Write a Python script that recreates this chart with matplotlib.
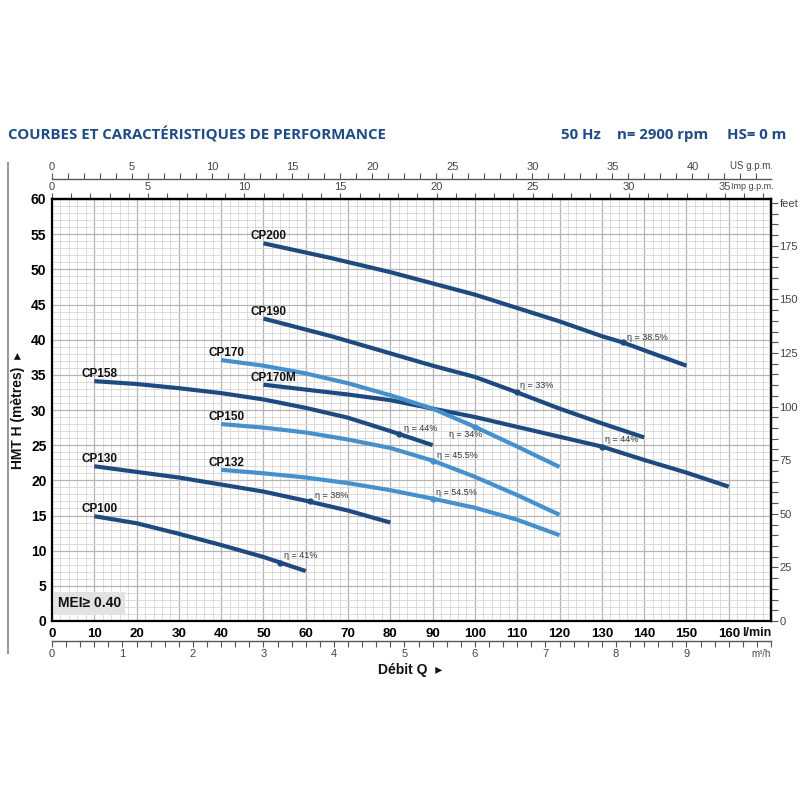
import matplotlib
matplotlib.use("Agg")
import matplotlib.pyplot as plt
from matplotlib import font_manager as fm
from matplotlib.ticker import MultipleLocator, FixedLocator, FixedFormatter
from matplotlib.lines import Line2D

# --- fonts ---
installed = {f.name for f in fm.fontManager.ttflist}
NARROW = "Liberation Sans Narrow" if "Liberation Sans Narrow" in installed else "Liberation Sans"
BOLD = "Liberation Sans"
TITLE_FONT = "Open Sans"

# --- data (Q en l/min, H en m) ---
cp200_q = [50, 66, 80, 90, 100, 110, 120, 130, 135, 150]
cp200_h = [53.7, 51.6, 49.6, 48.0, 46.4, 44.5, 42.6, 40.5, 39.6, 36.3]
cp190_q = [50, 66, 82, 90, 100, 110, 120, 130, 140]
cp190_h = [43.0, 40.5, 37.7, 36.3, 34.7, 32.5, 30.2, 28.1, 26.1]
cp170m_q = [50, 60, 70, 80, 90, 100, 110, 120, 130, 140, 150, 160]
cp170m_h = [33.6, 32.9, 32.2, 31.4, 30.2, 29.0, 27.6, 26.2, 24.8, 22.9, 21.1, 19.1]
cp170_q = [40, 50, 60, 70, 80, 90, 100, 110, 120]
cp170_h = [37.1, 36.3, 35.2, 33.8, 32.1, 30.2, 27.6, 24.8, 21.9]
cp158_q = [10, 20, 30, 40, 50, 60, 70, 80, 90]
cp158_h = [34.1, 33.7, 33.1, 32.4, 31.5, 30.3, 28.9, 27.0, 25.0]
cp150_q = [40, 50, 60, 70, 80, 90, 100, 110, 120]
cp150_h = [28.0, 27.5, 26.8, 25.8, 24.6, 22.8, 20.5, 17.9, 15.1]
cp132_q = [40, 50, 60, 70, 80, 90, 100, 110, 120]
cp132_h = [21.5, 21.0, 20.4, 19.6, 18.6, 17.4, 16.1, 14.4, 12.2]
cp130_q = [10, 20, 30, 40, 50, 60, 70, 80]
cp130_h = [22.0, 21.2, 20.4, 19.4, 18.4, 17.1, 15.7, 14.0]
cp100_q = [10, 20, 30, 40, 50, 60]
cp100_h = [14.9, 13.9, 12.4, 10.8, 9.1, 7.1]

noms = ["CP200", "CP190", "CP170M", "CP170", "CP158", "CP150", "CP132", "CP130", "CP100"]
courbes_q = [cp200_q, cp190_q, cp170m_q, cp170_q, cp158_q, cp150_q, cp132_q, cp130_q, cp100_q]
courbes_h = [cp200_h, cp190_h, cp170m_h, cp170_h, cp158_h, cp150_h, cp132_h, cp130_h, cp100_h]

# rendement (point, texte)
eta_q = [135, 110, 130, 100, 82, 90, 90, 61, 54]
eta_h = [39.6, 32.5, 24.8, 27.6, 26.6, 22.8, 17.4, 17.0, 8.3]
eta_txt = ["38.5%", "33%", "44%", "34%", "44%", "45.5%", "54.5%", "38%", "41%"]

FONCE = "#1d4a80"
CLAIR = "#4691cd"
couleurs = [FONCE, FONCE, FONCE, CLAIR, FONCE, CLAIR, CLAIR, FONCE, FONCE]
# decalage du texte eta en pixels
eta_off = [(4, 5), (3, 7), (3, 7), (-26, -8), (5, 5), (4, 5), (3, 6), (5, 6), (4, 7)]

W, H = 800, 800
fig = plt.figure(figsize=(8, 8), dpi=100)
fig.patch.set_facecolor("white")

# zone du graphe en pixels
x0, x1, y0, y1 = 52, 771, 199, 621
ax = fig.add_axes([x0 / W, 1 - y1 / H, (x1 - x0) / W, (y1 - y0) / H])
ax.set_xlim(0, 170)
ax.set_ylim(0, 60)

ax.xaxis.set_major_locator(FixedLocator(range(0, 161, 10)))
ax.xaxis.set_minor_locator(MultipleLocator(2))
ax.yaxis.set_major_locator(MultipleLocator(5))
ax.yaxis.set_minor_locator(MultipleLocator(1))
ax.grid(which="minor", color="#d6d6d6", lw=0.6)
ax.grid(which="major", color="#b4b4b4", lw=0.9)
ax.set_axisbelow(True)
ax.tick_params(which="both", length=0)
ax.tick_params(axis="x", pad=5, labelsize=9.5)
ax.tick_params(axis="y", pad=4, labelsize=10)
for lab in ax.get_xticklabels():
    lab.set_fontfamily(NARROW)
    lab.set_fontweight("bold")
for lab in ax.get_yticklabels():
    lab.set_fontfamily(BOLD)
    lab.set_fontweight("bold")
for sp in ax.spines.values():
    sp.set_color("black")
    sp.set_linewidth(1.6)

# courbes
for nom, q, h, c in zip(noms, courbes_q, courbes_h, couleurs):
    ax.plot(q, h, color=c, lw=3.0, solid_capstyle="butt", solid_joinstyle="round", zorder=3)
    ax.annotate(nom, (q[0], h[0]), xytext=(-13, 7), textcoords="offset pixels",
                ha="left", va="center", fontsize=8.5, fontweight="bold",
                family=NARROW, color="#111111", zorder=5)

for q, h, t, c, off in zip(eta_q, eta_h, eta_txt, couleurs, eta_off):
    ax.plot([q], [h], "o", ms=3.5, color=c, zorder=4)
    ax.annotate("\u03b7 = " + t, (q, h), xytext=off, textcoords="offset pixels",
                ha="left", va="center", fontsize=6.5, family=[NARROW, "DejaVu Sans"],
                color="#333333", zorder=5)

# MEI
ax.text(0.008, 0.025, "MEI\u2265 0.40", transform=ax.transAxes, ha="left", va="bottom",
        fontsize=10, fontweight="bold", family=[BOLD, "DejaVu Sans"], color="#111111",
        bbox=dict(boxstyle="square,pad=0.3", fc="#e2e2e2", ec="none"), zorder=6)

# axe Imp g.p.m. (haut du cadre)
imp = ax.secondary_xaxis("top", functions=(lambda q: q / 4.54609, lambda g: g * 4.54609))
imp.xaxis.set_major_locator(FixedLocator(range(0, 36, 5)))
imp.xaxis.set_minor_locator(MultipleLocator(1))
imp.tick_params(which="both", direction="out", length=4, width=0.8, color="#555555",
                labelsize=8, labelcolor="#444444", pad=1)
for lab in imp.get_xticklabels():
    lab.set_fontfamily(NARROW)
imp.spines["top"].set_linewidth(1.6)
ax.text(1.003, 1.018, "Imp g.p.m.", transform=ax.transAxes, ha="right", va="bottom",
        fontsize=6.5, family=NARROW, color="#444444")

# axe US g.p.m.
us_pos = (y1 - 179) / (y1 - y0)
us = ax.secondary_xaxis(us_pos, functions=(lambda q: q / 3.78541, lambda g: g * 3.78541))
us.xaxis.set_major_locator(FixedLocator(range(0, 41, 5)))
us.xaxis.set_minor_locator(MultipleLocator(1))
us.tick_params(which="both", direction="out", length=4, width=0.8, color="#555555",
               labelsize=8, labelcolor="#444444", pad=1)
for lab in us.get_xticklabels():
    lab.set_fontfamily(NARROW)
us.spines["top"].set_color("#555555")
us.spines["top"].set_linewidth(1.0)
ax.text(1.003, us_pos + 0.018, "US g.p.m.", transform=ax.transAxes, ha="right", va="bottom",
        fontsize=7, family=NARROW, color="#444444")

# axe m3/h
m3_pos = -(641 - y1) / (y1 - y0)
m3 = ax.secondary_xaxis(m3_pos, functions=(lambda q: q * 0.06, lambda m: m / 0.06))
m3.xaxis.set_major_locator(FixedLocator(range(0, 10)))
m3.xaxis.set_minor_locator(MultipleLocator(0.2))
m3.tick_params(which="both", direction="out", length=4, width=0.8, color="#555555",
               labelsize=8, labelcolor="#444444", pad=2)
for lab in m3.get_xticklabels():
    lab.set_fontfamily(NARROW)
m3.spines["bottom"].set_color("#555555")
m3.spines["bottom"].set_linewidth(1.0)
ax.text(1.0, m3_pos - 0.02, "m\u00b3/h", transform=ax.transAxes, ha="right", va="top",
        fontsize=7, family=NARROW, color="#444444")

# l/min
ax.text(1.0, -0.014, "l/min", transform=ax.transAxes, ha="right", va="top",
        fontsize=9, fontweight="bold", family=NARROW, color="#111111")

# axe feet (droite)
pieds_ticks = [0, 25, 50, 75, 100, 125, 150, 175, 195]
pieds_labels = ["0", "25", "50", "75", "100", "125", "150", "175", "feet"]
ft = ax.secondary_yaxis("right", functions=(lambda m: m / 0.3048, lambda f: f * 0.3048))
ft.yaxis.set_major_locator(FixedLocator(pieds_ticks))
ft.yaxis.set_major_formatter(FixedFormatter(pieds_labels))
ft.yaxis.set_minor_locator(MultipleLocator(5))
ft.tick_params(which="both", direction="out", length=5, width=0.8, color="#555555",
               labelsize=8, labelcolor="#444444", pad=1)
for lab in ft.get_yticklabels():
    lab.set_fontfamily(NARROW)
ft.spines["right"].set_linewidth(1.6)

# titres
BLEU = "#1f4b86"
fig.text(8 / W, 1 - 135 / H, "COURBES ET CARACT\u00c9RISTIQUES DE PERFORMANCE",
         ha="left", va="center", fontsize=10.8, fontweight="bold", family=TITLE_FONT,
         color=BLEU)
fig.text(601 / W, 1 - 135 / H, "50 Hz", ha="right", va="center", fontsize=10.8,
         fontweight="bold", family=TITLE_FONT, color=BLEU)
fig.text(708 / W, 1 - 135 / H, "n= 2900 rpm", ha="right", va="center", fontsize=10.8,
         fontweight="bold", family=TITLE_FONT, color=BLEU)
fig.text(786 / W, 1 - 135 / H, "HS= 0 m", ha="right", va="center", fontsize=10.8,
         fontweight="bold", family=TITLE_FONT, color=BLEU)

fig.text(18 / W, 1 - 410 / H, "HMT H (m\u00e8tres)  \u25b8", rotation=90, ha="center",
         va="center", fontsize=10, fontweight="bold", family=[BOLD, "DejaVu Sans"],
         color="#111111")
fig.text(410 / W, 1 - 670 / H, "D\u00e9bit Q  \u25b8", ha="center", va="center",
         fontsize=10, fontweight="bold", family=[BOLD, "DejaVu Sans"], color="#111111")

# trait vertical gris a gauche
fig.add_artist(Line2D([8 / W, 8 / W], [1 - 163 / H, 1 - 653 / H], color="#9a9a9a", lw=1.5))

fig.savefig("out.png", dpi=100, facecolor="white")
